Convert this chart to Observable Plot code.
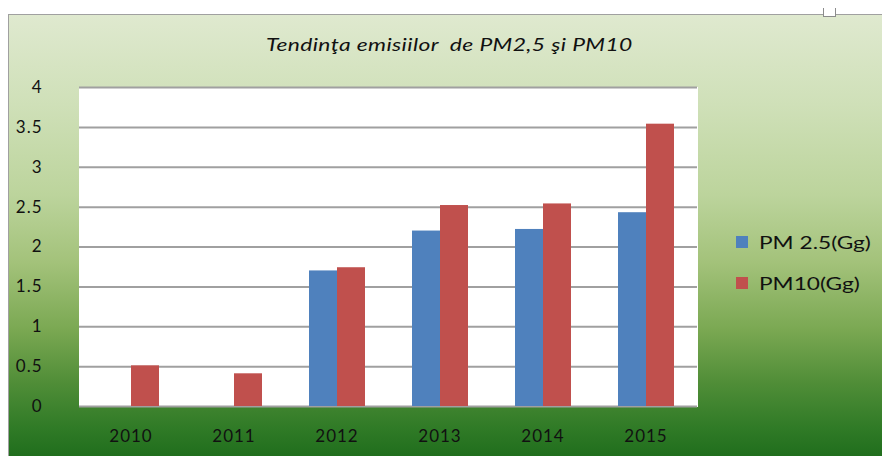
<!DOCTYPE html>
<html><head><meta charset="utf-8">
<script src="https://cdn.jsdelivr.net/npm/d3@7"></script>
<script src="https://cdn.jsdelivr.net/npm/@observablehq/plot@0.6"></script>
<style>
body{margin:0;background:#fff;}
#wrap{position:relative;width:882px;height:456px;overflow:hidden;font-family:Lato,"Open Sans",sans-serif;}
#box{position:absolute;left:8px;top:14px;width:880px;height:450px;border:1px solid #a0a0a0;
 background:linear-gradient(to bottom,#dfe9cf 0%,#cfe0b8 20%,#bcd49c 40%,#a3c27a 55%,#7aa852 70%,#4f8d37 82%,#2f7a26 92%,#1c6a1a 100%);}
#handle{position:absolute;left:823px;top:8px;width:11px;height:8px;border:1px solid #8c8c8c;border-top:none;background:#fff;}
#title{position:absolute;top:33px;left:266px;font-style:italic;font-size:18px;letter-spacing:0.3px;color:#111;white-space:pre;transform:scaleX(1.27);transform-origin:left center;}
#chart{position:absolute;left:0;top:0;}
#chart svg{color:#a0a0a0;}
#chart svg text{fill:#111;}
#legend{position:absolute;left:736px;top:221px;font-size:18px;color:#111;}
#legend div{display:flex;align-items:center;height:41px;}
#legend span.sw{display:inline-block;width:12px;height:12px;margin-right:11px;}
#legend span.lb{display:inline-block;transform:scaleX(1.26);transform-origin:left center;}
</style></head>
<body>
<div id="wrap">
 <div id="box"></div>
 <div id="handle"></div>
 <div id="chart"></div>
 <div id="title"></div>
 <div id="legend"></div>
</div>
<script>
const titleText = "Tendinţa emisiilor  de PM2,5 şi PM10";
const years = ["2010","2011","2012","2013","2014","2015"];
const seriesNames = ["PM 2.5(Gg)","PM10(Gg)"];
const seriesColors = ["#4f81bd","#c0504d"];
const pm25 = [0, 0, 1.70, 2.20, 2.22, 2.43];
const pm10 = [0.51, 0.41, 1.74, 2.52, 2.54, 3.54];
const yTicks = [0,0.5,1,1.5,2,2.5,3,3.5,4];

const rows = [];
years.forEach((y,i)=>{
  rows.push({year:y, series:seriesNames[0], value:pm25[i]});
  rows.push({year:y, series:seriesNames[1], value:pm10[i]});
});

document.getElementById("title").textContent = titleText;

const chart = Plot.plot({
  width: 882, height: 456,
  marginLeft: 78, marginRight: 185, marginTop: 87, marginBottom: 50,
  style: {background: "transparent", fontSize: "17px", fontFamily: "Lato, 'Open Sans', sans-serif", overflow: "visible", letterSpacing: "1px"},
  facet: {data: rows, x: "year"},
  fx: {domain: years, padding: 0, axis: "bottom", label: null, tickSize: 0, tickPadding: 23},
  x: {domain: seriesNames, paddingInner: 0, paddingOuter: 0.78, axis: null},
  y: {domain: [0,4], ticks: yTicks, tickFormat: d => String(d), tickSize: 0, tickPadding: 37, label: null, line: true},
  color: {domain: seriesNames, range: seriesColors},
  marks: [
    Plot.frame({fill: "white", stroke: "white", strokeWidth: 1}),
    Plot.gridY(yTicks, {stroke: "#a0a0a0", strokeOpacity: 1, strokeWidth: 2}),
    Plot.barY(rows, {x: "series", y: "value", fill: "series"})
  ]
});
document.getElementById("chart").appendChild(chart);

const lg = document.getElementById("legend");
seriesNames.forEach((n,i)=>{
  const d = document.createElement("div");
  const s = document.createElement("span"); s.className="sw"; s.style.background = seriesColors[i];
  const t = document.createElement("span"); t.className="lb"; t.textContent = n;
  d.appendChild(s); d.appendChild(t);
  lg.appendChild(d);
});
</script>
</body></html>
